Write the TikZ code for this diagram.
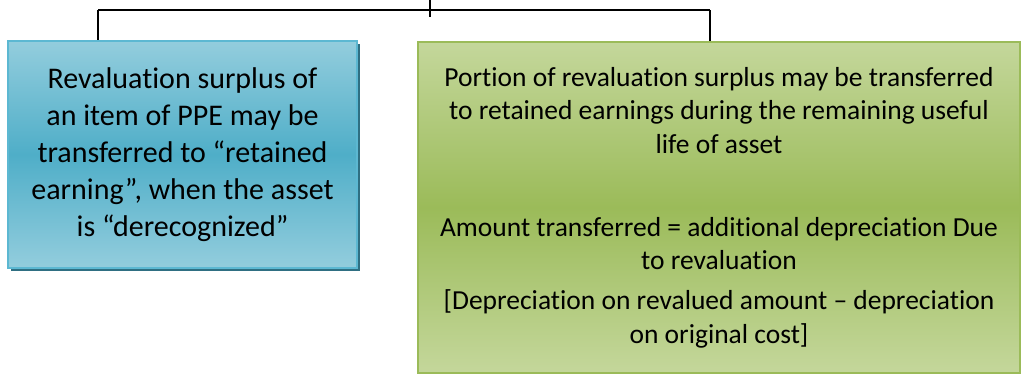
\documentclass[tikz,border=0pt]{standalone}
\usepackage{fontspec}
\setmainfont{Carlito}[Ligatures=NoCommon]
\usetikzlibrary{shadows}
\definecolor{tealtop}{HTML}{93CDDD}
\definecolor{tealmid}{HTML}{4FAEC8}
\definecolor{tealedge}{HTML}{5CB8D2}
\definecolor{tealshade}{HTML}{2F6F82}
\definecolor{greentop}{HTML}{C4D79B}
\definecolor{greenmid}{HTML}{9BBB59}
\definecolor{greenedge}{HTML}{9BBB59}

\begin{document}
\begin{tikzpicture}[x=1pt,y=-1pt]
            \useasboundingbox (0,0) rectangle (1021,375);
            \begin{scope}[every node/.style={rectangle,align=center,inner sep=0pt,line width=2pt}]
                \node (surplus) [draw=tealedge, top color=tealtop, bottom color=tealtop, middle color=tealmid,
                    drop shadow={shadow xshift=3pt, shadow yshift=-3pt, fill=tealshade, opacity=1},
                    minimum width=349pt, minimum height=227pt,
                    font=\fontsize{30}{37}\selectfont] at (182.5, 154.5)
                    {Revaluation surplus of\\an item of PPE may be\\transferred to “retained\\earning”, when the asset\\is “derecognized”};
                \node (portion) [draw=greenedge, top color=greentop, bottom color=greentop, middle color=greenmid,
                    minimum width=602pt, minimum height=331pt,
                    font=\fontsize{27.5}{33.5}\selectfont] at (719, 207.5)
                    {Portion of revaluation surplus may be transferred\\to retained earnings during the remaining useful\\life of asset\\[49.5pt]
                     Amount transferred = additional depreciation Due\\to revaluation\\[6.5pt]
                     [Depreciation on revalued amount -- depreciation\\on original cost]};
            \end{scope}

            \coordinate (root) at (430, 0);
            \coordinate (rootend) at (430, 17);
            \coordinate (splitL) at (98, 10);
            \coordinate (splitR) at (710, 10);

            \begin{scope}[line width=1.5pt, draw=black]
                \draw (root) -- (rootend);
                \draw (splitL) -- (splitR);
                \draw (splitL) -- (splitL |- surplus.north);
                \draw (splitR) -- (splitR |- portion.north);
            \end{scope}
        \end{tikzpicture}
\end{document}
